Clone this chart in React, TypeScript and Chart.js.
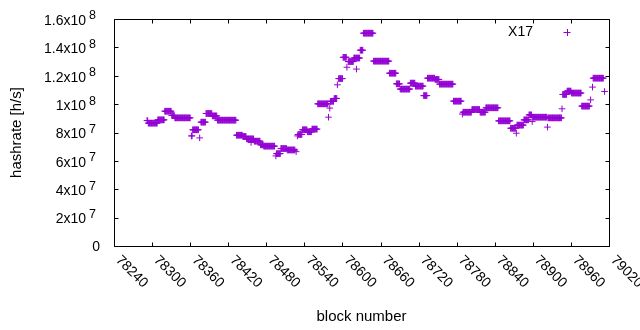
import React, { useEffect, useRef } from 'react';
import { Chart, registerables } from 'chart.js';

Chart.register(...registerables);

const seriesName = 'X17';
const xTitle = 'block number';
const yTitle = 'hashrate [h/s]';

// Runs of consecutive blocks that share the same hashrate reading
const runFirstBlock = [
  78292, 78294, 78309, 78320, 78331, 78336, 78362, 78364, 78375, 78377,
  78385, 78395, 78403, 78433, 78443, 78449, 78456, 78461, 78471, 78476,
  78495, 78496, 78503, 78513, 78527, 78529, 78530, 78537, 78545, 78552,
  78561, 78578, 78580, 78581, 78587, 78592, 78594, 78601, 78607, 78609,
  78618, 78622, 78628, 78633, 78649, 78674, 78685, 78691, 78707, 78715,
  78728, 78734, 78746, 78753, 78775, 78789, 78790, 78804, 78817, 78826,
  78846, 78865, 78874, 78875, 78886, 78894, 78899, 78900, 78923, 78924,
  78946, 78947, 78954, 78961, 78977, 78991, 78994, 78995, 79013,
];
const runLastBlock = [
  78293, 78308, 78319, 78330, 78335, 78360, 78363, 78373, 78375, 78384,
  78394, 78402, 78432, 78442, 78448, 78460, 78456, 78470, 78475, 78493,
  78495, 78502, 78512, 78525, 78527, 78529, 78536, 78544, 78551, 78560,
  78577, 78578, 78580, 78586, 78591, 78592, 78600, 78606, 78607, 78617,
  78627, 78622, 78632, 78648, 78673, 78684, 78690, 78706, 78714, 78727,
  78733, 78745, 78752, 78774, 78787, 78789, 78803, 78816, 78825, 78845,
  78864, 78873, 78874, 78885, 78893, 78898, 78899, 78922, 78923, 78945,
  78946, 78953, 78960, 78976, 78989, 78991, 78994, 79011, 79013,
];
const runHashrate = [
  8.84e7, 8.66e7, 8.89e7, 9.5e7, 9.2e7, 9.03e7, 7.76e7, 8.19e7, 7.62e7, 8.73e7,
  9.34e7, 9.17e7, 8.87e7, 7.81e7, 7.72e7, 7.55e7, 7.3e7, 7.39e7, 7.13e7, 7.04e7,
  6.35e7, 6.51e7, 6.87e7, 6.77e7, 6.65e7, 7.76e7, 7.86e7, 8.19e7, 8.05e7, 8.24e7,
  1.002e8, 9.08e7, 9.72e7, 1.02e8, 1.04e8, 1.136e8, 1.18e8, 1.33e8, 1.26e8, 1.3e8,
  1.325e8, 1.247e8, 1.38e8, 1.5e8, 1.303e8, 1.218e8, 1.143e8, 1.106e8, 1.148e8, 1.127e8,
  1.06e8, 1.183e8, 1.174e8, 1.141e8, 1.021e8, 9.3e7, 9.43e7, 9.62e7, 9.43e7, 9.74e7,
  8.82e7, 8.3e7, 7.95e7, 8.52e7, 8.89e7, 9.24e7, 8.77e7, 9.08e7, 8.38e7, 9.03e7,
  9.67e7, 1.068e8, 1.092e8, 1.078e8, 9.86e7, 1.03e8, 1.12e8, 1.183e8, 1.089e8,
];

const xTickValues = [78240, 78300, 78360, 78420, 78480, 78540, 78600, 78660, 78720, 78780, 78840, 78900, 78960, 79020];
const xTickLabels = ['78240', '78300', '78360', '78420', '78480', '78540', '78600', '78660', '78720', '78780', '78840', '78900', '78960', '79020'];
const yTickValues = [0, 2e7, 4e7, 6e7, 8e7, 1e8, 1.2e8, 1.4e8, 1.6e8];
const yTickBase = ['0', '2x10', '4x10', '6x10', '8x10', '1x10', '1.2x10', '1.4x10', '1.6x10'];
const yTickExp = ['', '7', '7', '7', '7', '8', '8', '8', '8'];

const COLOR = '#9400d3';
const FONT = '"Liberation Sans", Arial, sans-serif';

const points: { x: number; y: number }[] = [];
runFirstBlock.forEach((first, i) => {
  for (let b = first; b <= runLastBlock[i]; b++) {
    points.push({ x: b, y: runHashrate[i] });
  }
});

const decorPlugin = {
  id: 'gnuplotDecor',
  afterDraw(chart: any) {
    const ctx = chart.ctx;
    const a = chart.chartArea;
    const xs = chart.scales.x;
    const ys = chart.scales.y;
    const L = Math.round(a.left) + 0.5;
    const R = Math.round(a.right) + 0.5;
    const T = Math.round(a.top) + 0.5;
    const B = Math.round(a.bottom) + 0.5;
    ctx.save();
    ctx.strokeStyle = '#000';
    ctx.lineWidth = 1;
    ctx.beginPath();
    ctx.rect(L, T, R - L, B - T);
    const tl = 4;
    xTickValues.forEach((v) => {
      const px = Math.round(xs.getPixelForValue(v)) + 0.5;
      ctx.moveTo(px, B);
      ctx.lineTo(px, B - tl);
      ctx.moveTo(px, T);
      ctx.lineTo(px, T + tl);
    });
    yTickValues.forEach((v) => {
      const py = Math.round(ys.getPixelForValue(v)) + 0.5;
      ctx.moveTo(L, py);
      ctx.lineTo(L + tl, py);
      ctx.moveTo(R, py);
      ctx.lineTo(R - tl, py);
    });
    ctx.stroke();

    ctx.fillStyle = '#000';
    // x tick labels, rotated clockwise 45deg
    ctx.font = `14px ${FONT}`;
    xTickValues.forEach((v, i) => {
      const px = xs.getPixelForValue(v);
      ctx.save();
      ctx.translate(px + 4, a.bottom + 12);
      ctx.rotate(Math.PI / 4);
      ctx.textAlign = 'left';
      ctx.textBaseline = 'middle';
      ctx.fillText(xTickLabels[i], 0, 0);
      ctx.restore();
    });
    // y tick labels with superscript exponent
    yTickValues.forEach((v, i) => {
      const py = ys.getPixelForValue(v);
      ctx.textBaseline = 'middle';
      if (yTickExp[i]) {
        ctx.font = `14px ${FONT}`;
        ctx.textAlign = 'right';
        ctx.fillText(yTickBase[i], 86, py + 2);
        ctx.font = `12.5px ${FONT}`;
        ctx.textAlign = 'left';
        ctx.fillText(yTickExp[i], 89, py - 3);
      } else {
        ctx.font = `14px ${FONT}`;
        ctx.textAlign = 'right';
        ctx.fillText(yTickBase[i], 100, py + 1);
      }
    });
    // key
    ctx.font = `14px ${FONT}`;
    ctx.textAlign = 'right';
    ctx.textBaseline = 'middle';
    ctx.fillText(chart.data.datasets[0].label, 533, 32);
    ctx.strokeStyle = COLOR;
    ctx.beginPath();
    ctx.moveTo(563.5, 32.5);
    ctx.lineTo(570.5, 32.5);
    ctx.moveTo(567.5, 29);
    ctx.lineTo(567.5, 36);
    ctx.stroke();
    ctx.restore();
  },
};

export default function App() {
  const ref = useRef<HTMLCanvasElement>(null);
  useEffect(() => {
    document.body.style.margin = '0';
    const chart = new Chart(ref.current!, {
      type: 'scatter',
      data: {
        datasets: [
          {
            label: seriesName,
            data: points,
            pointStyle: 'cross',
            pointRadius: 3.3,
            pointHoverRadius: 3.3,
            borderColor: COLOR,
            backgroundColor: COLOR,
            pointBorderWidth: 1,
            showLine: false,
          },
        ],
      },
      options: {
        animation: false,
        responsive: false,
        maintainAspectRatio: false,
        layout: { padding: { left: 0, top: 19, right: 31, bottom: 0 } },
        plugins: { legend: { display: false }, tooltip: { enabled: false } },
        scales: {
          x: {
            type: 'linear',
            min: 78240,
            max: 79020,
            grid: { display: false, drawTicks: false },
            border: { display: false },
            ticks: { display: false },
            title: {
              display: true,
              text: xTitle,
              color: '#000',
              font: { family: FONT, size: 15 },
              padding: { top: 0, bottom: 4 },
            },
            afterFit: (s: any) => {
              s.height = 84;
            },
          },
          y: {
            type: 'linear',
            min: 0,
            max: 1.6e8,
            grid: { display: false, drawTicks: false },
            border: { display: false },
            ticks: { display: false },
            title: {
              display: true,
              text: yTitle,
              color: '#000',
              font: { family: FONT, size: 15 },
              padding: { top: 8, bottom: 0 },
            },
            afterFit: (s: any) => {
              s.width = 114;
            },
          },
        },
      },
      plugins: [decorPlugin],
    });
    return () => chart.destroy();
  }, []);
  return <canvas ref={ref} width={640} height={330} style={{ display: 'block' }} />;
}
